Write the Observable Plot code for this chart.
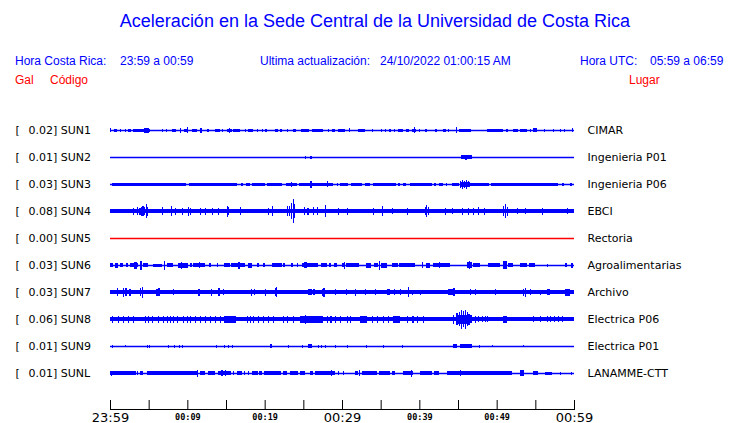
<!DOCTYPE html>
<html>
<head>
<meta charset="utf-8">
<script src="https://cdn.jsdelivr.net/npm/d3@7"></script>
<script src="https://cdn.jsdelivr.net/npm/@observablehq/plot@0.6"></script>
<style>
  body { margin: 0; background: #fff; }
  #wrap { position: relative; width: 740px; height: 423px; font-family: "Liberation Sans", Arial, sans-serif; }
  .h { position: absolute; white-space: pre; line-height: 14px; font-size: 12px; color: #0000ff; }
  .r { color: #ff0000; }
  #title { position: absolute; left: 0; width: 750px; top: 10px; text-align: center; font-size: 18px; line-height: 22px; color: #0000ff; }
  #chart { position: absolute; left: 0; top: 90px; }
</style>
</head>
<body>
<div id="wrap">
  <div id="title">Aceleración en la Sede Central de la Universidad de Costa Rica</div>
  <div class="h" style="left:15px;top:54px">Hora Costa Rica:</div>
  <div class="h" style="left:120px;top:54px">23:59 a 00:59</div>
  <div class="h" style="left:260px;top:54px">Ultima actualización:</div>
  <div class="h" style="left:380px;top:54px">24/10/2022 01:00:15 AM</div>
  <div class="h" style="left:580px;top:54px">Hora UTC:</div>
  <div class="h" style="left:650px;top:54px">05:59 a 06:59</div>
  <div class="h r" style="left:15px;top:73px">Gal</div>
  <div class="h r" style="left:50px;top:73px">Código</div>
  <div class="h r" style="left:629px;top:73px">Lugar</div>
  <div id="chart"></div>
</div>
<script>
// ---- data ----
const stations = ["SUN1","SUN2","SUN3","SUN4","SUN5","SUN6","SUN7","SUN8","SUN9","SUNL"];
const maxGal = ["0.02","0.01","0.03","0.08","0.00","0.03","0.03","0.06","0.01","0.01"];
const places = ["CIMAR","Ingenieria P01","Ingenieria P06","EBCI","Rectoria","Agroalimentarias","Archivo","Electrica P06","Electrica P01","LANAMME-CTT"];
const traceColors = ["blue","blue","blue","blue","red","blue","blue","blue","blue","blue"];
const tickMinutes = [0,5,10,15,20,25,30,35,40,45,50,55,60];
const bigTicks = [0,30,60];
const bigTickLabels = ["23:59","00:29","00:59"];
const smallTicks = [10,20,40,50];
const smallTickLabels = ["00:09","00:19","00:39","00:49"];

// envelope segments per station: [start minute, end minute, half amplitude]
// minutes after 23:59; amplitude in relative units (27 units = one row)
const sun1 = [[0,0.15,2],[0.5,0.9,1.5],[1.3,1.45,1.5],[1.9,2.05,1.5],[2.3,2.7,1.5],[3.0,5.2,1.5],[4.4,5.0,2.5],[6.7,6.85,1.5],[7.2,7.35,1.5],[8.0,8.5,1.5],[9.0,9.15,2.5],[9.6,10.1,1.5],[10.0,10.15,3],[10.6,11.2,1.5],[11.6,11.9,2.5],[12.6,12.75,1.5],[13.6,14.2,1.5],[14.5,14.65,1.5],[15.1,15.8,1.5],[15.4,15.55,2.5],[15.9,16.8,1.5],[17.4,17.55,1.5],[17.8,18.5,1.5],[19.0,19.15,1.5],[19.6,19.75,1.5],[20.1,20.25,1.5],[21.3,21.7,1.5],[22.0,22.2,1.5],[22.9,23.05,1.5],[23.7,24.0,1.5],[24.7,25.7,1.5],[26.1,27.5,1.5],[28.2,28.35,1.5],[28.7,29.1,1.5],[29.5,30.4,1.5],[30.9,31.05,2],[32.1,33.0,1.5],[33.9,34.05,1.5],[35.0,35.15,1.5],[35.6,35.75,1.5],[36.1,36.3,1.5],[36.7,36.85,1.5],[37.2,37.9,1.5],[38.3,38.7,1.5],[39.0,39.6,1.5],[39.3,39.45,3],[40.0,40.15,1.5],[40.7,41.0,1.5],[42.0,42.3,1.5],[43.1,43.4,1.5],[43.7,43.85,1.5],[44.7,44.85,3],[45.1,46.7,1.5],[48.7,50.8,1.5],[51.2,51.5,1.5],[52.1,52.8,1.5],[53.0,53.9,1.5],[54.3,54.45,1.5],[54.7,55.2,2],[56.1,56.25,1.5],[57.3,57.45,1.5],[58.2,58.35,1.5],[58.7,58.85,1.5],[59.7,59.85,2]];
const sun2 = [[25.2,25.35,1.5],[25.9,26.1,1.5],[45.4,46.8,2],[45.9,46.1,2.5]];
const sun3 = [[0.2,9.8,1.5],[10.2,16.4,1.5],[16.9,17.2,1.5],[17.6,18.1,1.5],[18.4,20.0,1.5],[20.3,22.3,1.5],[22.7,24.2,1.5],[24.5,28.9,1.5],[29.3,29.5,1.5],[29.8,30.8,1.5],[31.1,32.6,1.5],[33.0,33.6,1.5],[34.0,37.0,1.5],[37.3,37.5,1.5],[37.9,38.3,1.5],[38.8,41.6,1.5],[41.9,42.2,1.5],[42.6,43.0,1.5],[43.4,43.6,1.5],[44.2,45.1,1.5],[45.2,46.5,2.5],[45.3,45.45,3.5],[45.5,45.65,4.5],[45.75,45.9,3.5],[46.0,46.15,4.5],[46.25,46.4,3],[46.5,49.0,1.5],[49.3,57.9,1.5],[58.5,58.65,1.5],[59.5,59.8,1.5],[23.4,23.55,2.5],[25.9,26.1,3.5],[28.0,28.15,3]];
const sun4 = [[0,60,2.3],[3.0,3.15,3.5],[3.5,3.65,4],[3.7,4.0,3.5],[4.0,4.15,4.5],[4.2,4.35,5],[4.4,4.55,4],[4.6,4.75,7],[4.8,4.95,4.5],[6.7,6.85,4],[7.9,8.05,5],[8.4,8.55,3.5],[9.3,9.45,3.5],[10.1,10.25,4.5],[10.3,10.45,3.5],[11.6,11.75,3.5],[12.3,12.45,3.5],[13.2,13.35,3.5],[14.0,14.15,3.5],[15.1,15.25,5.5],[15.3,15.45,4],[16.8,16.95,4],[20.4,20.55,3.5],[20.9,21.05,5],[22.9,23.05,5],[23.1,23.25,5],[23.35,23.5,8],[23.6,23.75,12],[23.8,23.95,7],[25.1,25.25,4],[25.5,25.7,3.5],[26.2,26.35,4],[26.8,26.95,4],[27.8,27.95,6],[29.5,29.65,3.5],[30.6,30.75,3.5],[34.0,34.15,3.5],[35.2,35.35,5],[36.5,36.65,3],[38.4,38.55,3.5],[40.7,40.85,4],[40.9,41.05,6],[41.1,41.25,4],[43.3,43.45,3.5],[44.2,44.35,3],[45.5,45.65,3.5],[46.3,46.45,3.5],[46.9,47.05,3.5],[47.6,47.75,4],[48.4,48.55,3.5],[50.8,50.95,5],[51.05,51.2,7],[51.3,51.45,4.5],[52.6,52.75,3],[53.7,53.85,3],[55.9,56.05,3.5],[59.1,59.25,3]];
const sun5 = [];
const sun6 = [[0,0.4,2],[0.6,1.0,2.5],[1.3,1.7,2],[2.1,2.3,2],[2.6,3.6,2],[3.1,3.5,3.5],[3.9,4.1,4.5],[4.3,4.9,2],[5.5,6.7,1.5],[7.0,7.15,4.5],[7.4,8.2,2],[8.8,10.1,2.5],[9.2,9.35,3.5],[10.4,10.55,2],[10.7,12.3,2],[11.5,11.65,3],[12.8,13.1,2],[13.8,13.95,2],[14.7,15.5,2],[15.6,17.5,2],[16.6,16.75,3.5],[17.8,18.4,2.5],[19.0,19.3,2],[19.8,20.0,2],[20.9,22.2,2],[22.4,22.6,2],[23.4,23.7,2],[24.2,24.35,2],[24.8,26.9,2],[25.1,25.5,3],[27.3,28.1,2],[28.3,28.6,2],[29.0,29.4,2],[30.0,30.4,2],[30.2,30.35,3.5],[30.5,32.2,2],[33.1,33.8,2.5],[34.1,34.6,2],[34.8,34.95,4.5],[35.0,35.8,2.5],[36.5,37.2,2],[37.4,39.5,2],[40.3,40.45,3],[40.8,41.4,2.5],[41.8,44.0,2],[42.5,42.65,3],[46.2,46.8,3],[46.4,46.55,4],[47.0,47.9,2],[48.9,50.4,2],[50.8,51.3,4],[51.5,52.1,2],[53.0,53.9,2],[54.2,55.0,2],[56.5,56.65,1.5],[58.8,59.1,2],[59.6,59.9,2.5]];
const sun7 = [[0,60,1.8],[0.9,1.05,4],[1.7,1.85,4.5],[2.0,2.15,4],[2.5,2.7,3.5],[3.9,4.05,4],[4.1,4.25,5.5],[6.0,6.15,3.5],[6.25,6.45,4],[8.1,8.25,3],[11.4,11.6,3.5],[13.1,13.25,3.5],[14.0,14.2,4],[14.6,14.75,3],[18.2,18.35,3.5],[18.6,18.75,3],[20.0,20.15,3.5],[21.3,21.45,4],[21.5,21.65,5],[25.6,26.1,3],[26.3,26.45,3],[27.4,27.55,3.5],[27.6,27.75,4.5],[29.1,29.25,3],[30.5,30.65,3],[31.7,31.85,3.5],[33.0,33.15,3],[34.3,34.45,3],[35.8,36.2,3],[36.7,36.85,3],[37.5,37.65,3],[38.5,38.65,5],[39.0,39.2,2.5],[40.1,40.25,2.5],[43.7,44.3,3],[44.4,44.6,4],[46.5,46.65,3],[47.2,47.35,3],[49.8,49.95,3],[53.4,53.55,3.5],[53.6,53.75,4.5],[54.3,54.45,3],[55.6,55.75,2.5],[56.5,56.9,3],[58.8,59.5,3.5]];
const sun8 = [[0,60,2.2],[0.26,0.4,3.5],[1.03,1.18,3.5],[1.68,1.83,3.5],[2.33,2.48,3.5],[2.97,3.12,3.5],[4.53,4.68,3.5],[4.91,5.06,3.5],[5.43,5.58,3.5],[6.21,6.36,3.5],[6.85,7.0,3.5],[7.37,7.52,3.5],[7.76,7.91,3.5],[8.15,8.3,3.5],[8.66,8.81,3.5],[9.44,9.59,3.5],[9.96,10.11,3.5],[10.35,10.5,3.5],[10.99,11.14,3.5],[11.64,11.79,3.5],[12.28,12.43,3.5],[12.93,13.08,3.5],[13.58,13.73,3.5],[14.22,14.37,3.5],[14.7,16.3,3.5],[17.7,17.85,3.5],[18.1,18.25,3.5],[18.5,18.65,3.5],[19.1,19.25,3.5],[19.8,19.95,3.5],[20.4,20.55,3.5],[21.1,21.25,3.5],[22.4,22.55,3.5],[22.9,23.05,3.5],[23.7,23.85,3.5],[24.6,27.5,3.5],[25.2,25.4,4.5],[28.1,28.25,3.5],[28.5,28.65,3.5],[29.1,29.25,3.5],[29.7,29.85,3.5],[30.6,30.75,3.5],[31.0,31.15,3.5],[32.3,33.2,3.5],[33.9,34.05,3.5],[34.5,34.65,3.5],[35.3,35.45,3.5],[35.9,36.05,3.5],[36.6,37.5,3.5],[38.4,38.55,3.5],[39.1,39.25,3.5],[39.7,39.85,3.5],[40.5,40.65,3.5],[44.3,44.45,4.5],[44.9,46.6,4.5],[44.8,44.95,6],[45.1,45.25,7],[45.4,45.55,9.5],[45.6,45.75,8],[45.85,46.0,9.5],[46.1,46.25,7],[46.35,46.5,5.5],[46.6,46.75,4],[47.2,47.35,3.5],[47.6,47.75,3],[48.1,48.25,3],[48.5,48.65,3],[48.7,48.85,3],[50.8,51.3,3.5],[54.7,54.85,3],[55.6,55.75,3],[56.5,56.65,3],[56.9,57.05,3],[57.4,57.55,3],[57.9,58.05,3],[58.4,58.55,3]];
const sun9 = [[0.26,0.41,1.5],[1.94,2.09,1],[4.78,4.93,1.5],[5.04,5.19,1.5],[7.5,7.65,1.5],[8.28,8.43,1.5],[8.92,9.07,1.5],[9.31,9.46,1.5],[13.7,13.85,1.5],[14.7,14.85,1.5],[15.3,15.45,1.5],[15.8,15.95,1.5],[20.7,20.9,2],[23.0,23.15,1.5],[24.8,24.95,1.5],[25.6,26.1,2],[26.9,27.05,1.5],[27.3,27.45,1.5],[27.8,27.95,1.5],[29.1,29.25,1.5],[30.6,30.75,1.5],[33.1,33.25,1.5],[35.3,35.45,1.5],[37.8,37.95,1.5],[44.3,44.9,2],[45.3,46.8,2],[47.7,47.85,1.5],[49.4,49.55,1],[53.4,53.55,1]];
const sunL = [[0,3.4,1.7],[0.1,0.25,2.5],[3.5,3.65,1.7],[3.9,4.3,1.7],[4.8,9.4,1.7],[9.4,11.3,1.7],[11.2,11.35,3.5],[11.6,12.3,1.7],[12.7,13.6,1.7],[14.0,15.7,1.7],[14.4,14.55,3],[14.9,15.05,3],[15.9,16.05,1.7],[16.4,17.1,1.7],[17.3,17.45,1.7],[17.8,17.95,1.7],[18.4,19.1,1.7],[19.3,19.7,1.7],[19.9,22.1,1.7],[22.4,22.9,1.7],[23.3,24.3,1.7],[24.6,25.2,1.7],[25.9,26.3,1.7],[26.5,29.1,1.7],[28.6,28.75,3],[29.5,29.65,1.7],[30.1,30.25,1.7],[31.7,32.1,1.7],[32.2,32.35,3],[32.6,34.5,1.7],[34.8,36.2,1.7],[36.5,36.9,1.7],[37.9,39.2,2],[38.9,39.05,3.5],[40.1,41.6,1.7],[41.9,42.6,1.7],[43.6,48.9,2],[45.2,45.35,3],[48.9,52.0,1.7],[53.0,53.5,3],[54.7,55.3,1.7],[56.2,57.2,1.5],[58.2,58.35,1.5],[59.6,59.75,1.5]];
const traces = [sun1, sun2, sun3, sun4, sun5, sun6, sun7, sun8, sun9, sunL];
const AMP_PER_ROW = 27;

// ---- build table ----
const segs = [];
traces.forEach((list, row) => list.forEach(([t0, t1, a]) => segs.push({row, t0, t1: Math.max(t1, t0 + 0.15), a, color: traceColors[row]})));
const rows = stations.map((s, i) => ({row: i, code: s, gal: maxGal[i], place: places[i], color: traceColors[i]}));

const W = 740, H = 333, mL = 110, mR = 166, mT = 20, mB = 14;
const plot = Plot.plot({
  width: W, height: H,
  marginLeft: mL, marginRight: mR, marginTop: mT, marginBottom: mB,
  x: {domain: [0, 60], axis: null},
  y: {domain: [0, 9], range: [40, 283], axis: null},
  style: {fontFamily: "'DejaVu Sans', sans-serif", background: "white"},
  marks: [
    Plot.ruleY(rows, {y: "row", x1: 0, x2: 60, stroke: "color", strokeWidth: 1.5}),
    Plot.rect(segs, {x1: "t0", x2: "t1", y1: d => d.row - d.a / AMP_PER_ROW, y2: d => d.row + d.a / AMP_PER_ROW, fill: "color", shapeRendering: "crispEdges"}),
    Plot.text(rows, {y: "row", text: () => "[", frameAnchor: "left", dx: -95, textAnchor: "start", fontSize: 11, fill: "black"}),
    Plot.text(rows, {y: "row", text: d => `${d.gal}] ${d.code}`, frameAnchor: "left", dx: -82, textAnchor: "start", fontSize: 11, fill: "black"}),
    Plot.text(rows, {y: "row", text: "place", frameAnchor: "right", dx: 13, textAnchor: "start", fontSize: 11, fill: "black"}),
    Plot.ruleX(tickMinutes, {x: d => d, insetTop: (H - mT - mB) - 9, stroke: "black", strokeWidth: 1}),
    Plot.frame({anchor: "bottom", stroke: "black", strokeWidth: 1}),
    Plot.text(bigTicks, {x: d => d, text: (d, i) => bigTickLabels[i], frameAnchor: "bottom", dy: 12, lineAnchor: "bottom", fontSize: 13, fill: "black"}),
    Plot.text(smallTicks, {x: d => d, text: (d, i) => smallTickLabels[i], frameAnchor: "bottom", dy: 10, lineAnchor: "bottom", fontSize: 8.5, fontWeight: "bold", fontFamily: "'DejaVu Sans Mono', monospace", fill: "black"})
  ]
});
document.getElementById("chart").appendChild(plot);
</script>
</body>
</html>
